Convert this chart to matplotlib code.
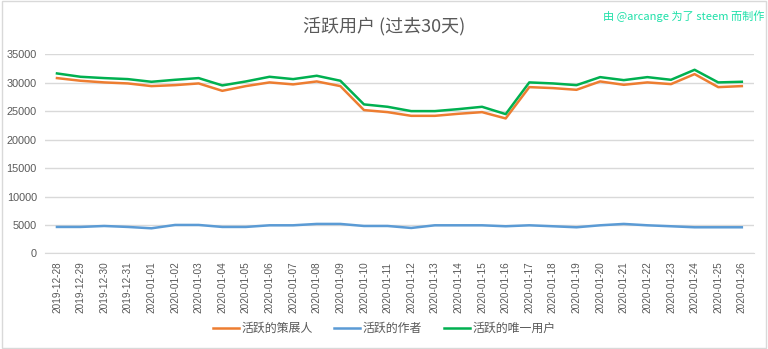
import matplotlib
matplotlib.use("Agg")
import matplotlib.pyplot as plt

plt.rcParams['font.family'] = ['Noto Sans CJK SC', 'DejaVu Sans']

dates = ["2019-12-28", "2019-12-29", "2019-12-30", "2019-12-31",
         "2020-01-01", "2020-01-02", "2020-01-03", "2020-01-04", "2020-01-05",
         "2020-01-06", "2020-01-07", "2020-01-08", "2020-01-09", "2020-01-10",
         "2020-01-11", "2020-01-12", "2020-01-13", "2020-01-14", "2020-01-15",
         "2020-01-16", "2020-01-17", "2020-01-18", "2020-01-19", "2020-01-20",
         "2020-01-21", "2020-01-22", "2020-01-23", "2020-01-24", "2020-01-25",
         "2020-01-26"]

curators = [30840, 30370, 30080, 29900, 29430, 29600, 29900, 28600, 29430,
            30080, 29730, 30250, 29430, 25210, 24850, 24200, 24200, 24560,
            24850, 23740, 29250, 29080, 28780, 30250, 29660, 30080, 29780,
            31540, 29250, 29430]

authors = [4650, 4650, 4820, 4650, 4410, 5000, 5000, 4650, 4650,
           4940, 4940, 5180, 5180, 4820, 4820, 4470, 4940, 4940,
           4940, 4770, 4940, 4770, 4590, 4940, 5180, 4940, 4770,
           4590, 4590, 4590]

unique = [31660, 31070, 30840, 30660, 30190, 30540, 30840, 29550, 30250,
          31070, 30660, 31250, 30370, 26210, 25790, 25030, 25030, 25380,
          25790, 24500, 30080, 29900, 29600, 31010, 30480, 31010, 30540,
          32300, 30080, 30190]

series_names = ["活跃的策展人", "活跃的作者", "活跃的唯一用户"]
colors = ["#ED7D31", "#5B9BD5", "#00B050"]

fig = plt.figure(figsize=(7.68, 3.49), dpi=100)
ax = fig.add_axes([0.0588, 0.274, 0.9225, 0.570])

x = list(range(len(dates)))
for vals, name, c in zip([curators, authors, unique], series_names, colors):
    ax.plot(x, vals, color=c, lw=1.8, label=name, solid_joinstyle='round')

ax.set_xlim(-0.5, len(dates) - 0.5)
ax.set_ylim(0, 35000)
ax.set_yticks(range(0, 35001, 5000))
ax.yaxis.grid(True, color="#D9D9D9", lw=1)
ax.set_axisbelow(True)
for s in ["top", "right", "left"]:
    ax.spines[s].set_visible(False)
ax.spines["bottom"].set_color("#D9D9D9")
ax.set_xticks(x)
ax.set_xticklabels(dates, rotation=90, fontsize=7.2, color="#595959",
                   family=['Liberation Sans', 'DejaVu Sans'])
for lbl in ax.get_yticklabels():
    lbl.set_fontsize(7.8)
    lbl.set_color("#595959")
    lbl.set_family(['Liberation Sans', 'DejaVu Sans'])
ax.tick_params(axis='both', length=0, pad=6)

fig.text(0.5, 0.925, "活跃用户 (过去30天)", ha="center", va="center",
         fontsize=13, color="#595959")
fig.text(0.995, 0.955, "由 @arcange 为了 steem 而制作", ha="right", va="center",
         fontsize=8, color="#1DE0A8")

fig.legend(loc="center", bbox_to_anchor=(0.5, 0.058), ncol=3, frameon=False,
           fontsize=8.6, handlelength=2.2, handletextpad=0.2, columnspacing=1.8,
           labelcolor="#595959")

fig.patches.append(plt.Rectangle((0.002, 0.003), 0.996, 0.994, transform=fig.transFigure,
                                 fill=False, edgecolor="#D9D9D9", lw=1))

fig.savefig("out.png", dpi=100)
